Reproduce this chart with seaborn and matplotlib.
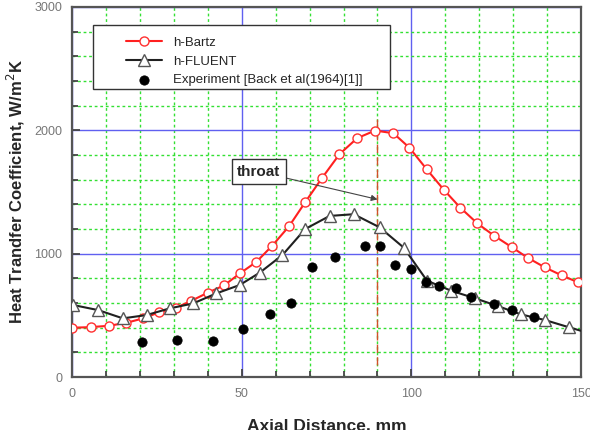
import numpy as np
import matplotlib
matplotlib.use('Agg')
import matplotlib.pyplot as plt
import seaborn as sns
from matplotlib.ticker import MultipleLocator
from matplotlib.patches import Rectangle

# h-Bartz (red, open circles)
bartz_x = [0, 5.5, 10.9, 16, 21, 25.7, 30.5, 35.2, 40, 44.8, 49.5, 54.3, 59, 64,
           68.7, 73.6, 78.8, 84, 89.3, 94.7, 99.4, 104.5, 109.6, 114.4, 119.4,
           124.4, 129.5, 134.2, 139.3, 144.3, 149.2]
bartz_y = [400, 405, 416, 440, 476, 525, 560, 619, 684, 743, 841, 933, 1065, 1224,
           1417, 1611, 1806, 1936, 1998, 1976, 1859, 1684, 1516, 1373, 1246,
           1145, 1054, 968, 889, 824, 767]

# h-FLUENT (black, open triangles); last point is line end only
fluent_x = [0.4, 7.7, 15, 22, 28.8, 35.7, 42.5, 49.4, 55.3, 62, 68.7, 75.9, 83,
            90.6, 97.7, 104.6, 111.7, 118.8, 125.4, 132.3, 139.4, 146.5, 150]
fluent_y = [584, 543, 476, 503, 557, 597, 678, 746, 846, 989, 1200, 1306, 1320,
            1214, 1050, 781, 700, 638, 576, 508, 462, 403, 375]

# Experiment [Back et al (1964)]
exp_x = [20.5, 31, 41.6, 50.5, 58.2, 64.6, 70.8, 77.4, 86.2, 90.6, 95.2, 99.9,
         104.3, 108, 113, 117.6, 124.3, 129.6, 136]
exp_y = [281, 300, 294, 389, 511, 597, 895, 976, 1065, 1065, 908, 873,
         768, 738, 719, 651, 592, 543, 489]

sns.set_style('ticks')
plt.rcParams['font.family'] = ['Liberation Sans', 'DejaVu Sans']

fig = plt.figure(figsize=(5.9, 4.3), dpi=100)
ax = fig.add_axes([0.122, 0.123, 0.863, 0.861])

ax.set_xlim(0, 150)
ax.set_ylim(0, 3000)
ax.xaxis.set_major_locator(MultipleLocator(50))
ax.xaxis.set_minor_locator(MultipleLocator(10))
ax.yaxis.set_major_locator(MultipleLocator(1000))
ax.yaxis.set_minor_locator(MultipleLocator(200))
ax.grid(which='minor', color='#33e033', linestyle=(0, (2, 2)), linewidth=1.0)
ax.grid(which='major', color='#6060f0', linestyle='-', linewidth=1.0)
ax.set_axisbelow(True)

# throat line
ax.plot([90, 90], [100, 2125], color='#d2502a', linestyle=(0, (6, 3)), lw=1.0, zorder=2)

sns.lineplot(x=bartz_x, y=bartz_y, ax=ax, color='#ff2020', lw=1.5, marker='o',
             markersize=6.5, markerfacecolor='white', markeredgecolor='#ff3030',
             markeredgewidth=1.0, label='h-Bartz', sort=False, zorder=3)
sns.lineplot(x=fluent_x, y=fluent_y, ax=ax, color='#202020', lw=1.5, marker='^',
             markersize=8, markerfacecolor='white', markeredgecolor='#555555',
             markeredgewidth=1.0, markevery=list(range(len(fluent_x) - 1)),
             label='h-FLUENT', sort=False, zorder=3)
sns.scatterplot(x=exp_x, y=exp_y, ax=ax, color='black', s=45, edgecolor='black',
                label='Experiment [Back et al(1964)[1]]', zorder=4)

ax.annotate('throat', xy=(90, 1440), xytext=(55, 1665), fontsize=11,
            fontweight='bold', ha='center', va='center',
            bbox=dict(boxstyle='square,pad=0.35', fc='white', ec='#333333', lw=1.0),
            arrowprops=dict(arrowstyle='-|>', color='#444444', lw=0.8,
                            mutation_scale=9, shrinkA=0, shrinkB=0), zorder=5)

# legend box drawn separately so the entries sit with wide side margins
ax.add_patch(Rectangle((0.041, 0.778), 0.584, 0.173, transform=ax.transAxes,
                       fc='white', ec='#333333', lw=1.0, zorder=6))
leg = ax.legend(loc='upper left', bbox_to_anchor=(0.107, 0.92), frameon=False,
                fontsize=9.5, handlelength=2.7, handletextpad=0.8,
                borderaxespad=0, borderpad=0, labelspacing=0.5)
leg.set_zorder(7)

for s in ax.spines.values():
    s.set_color('#555555')
    s.set_linewidth(1.6)
ax.tick_params(which='both', direction='in', color='#444444', labelcolor='#777777',
               labelsize=9)
ax.tick_params(which='major', length=6, width=1.3)
ax.tick_params(which='minor', length=4, width=1.3)
ax.tick_params(axis='x', which='both', pad=8)
ax.tick_params(axis='y', which='both', pad=7)

ax.set_xlabel('Axial Distance, mm', fontsize=12.5, fontweight='bold', labelpad=13)
ax.set_ylabel('Heat Trandfer Coefficient, W/m$^2$K', fontsize=12,
              fontweight='bold', labelpad=5)

fig.savefig('out.png', dpi=100)
